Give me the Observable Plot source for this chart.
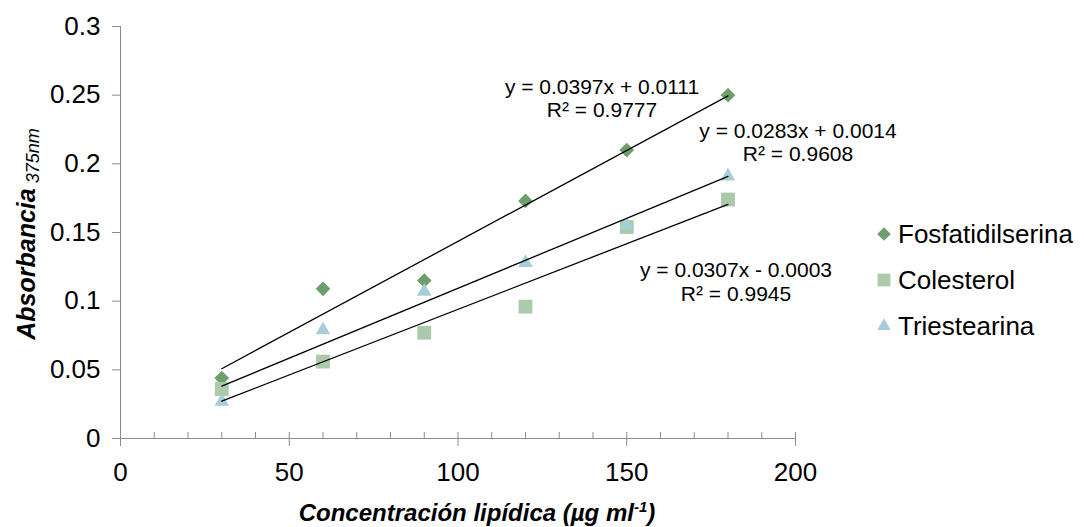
<!DOCTYPE html>
<html><head><meta charset="utf-8">
<script src="https://cdn.jsdelivr.net/npm/d3@7"></script>
<script src="https://cdn.jsdelivr.net/npm/@observablehq/plot@0.6"></script>
<style>
body{margin:0;background:#fff;font-family:"Liberation Sans",Arial,Helvetica,sans-serif}
#wrap{position:relative;width:1084px;height:527px;overflow:hidden}
#legend{position:absolute;left:872px;top:211px}
#legend .row{display:flex;align-items:center;height:46px;font-size:26px;color:#000}
#legend svg{width:24px;height:24px;margin-right:2px}
</style></head><body><div id="wrap"></div>
<script>
// ---- data ----
const concentrations = [30, 60, 90, 120, 150, 180];
const fosfatidilserina = [0.044, 0.109, 0.115, 0.173, 0.210, 0.250];
const colesterol = [0.036, 0.056, 0.077, 0.096, 0.154, 0.174];
const triestearina = [0.027, 0.079, 0.107, 0.128, 0.155, 0.191];
const seriesNames = ["Fosfatidilserina", "Colesterol", "Triestearina"];
const equations = ["y = 0.0397x + 0.0111", "y = 0.0307x - 0.0003", "y = 0.0283x + 0.0014"];
const r2Labels = ["R² = 0.9777", "R² = 0.9945", "R² = 0.9608"];
const xTicks = [0, 50, 100, 150, 200];
const xMinorTicks = [10, 20, 30, 40, 50, 60, 70, 80, 90, 100, 110, 120, 130, 140, 150, 160, 170, 180, 190, 200];
const yTicks = [0, 0.05, 0.1, 0.15, 0.2, 0.25, 0.3];
const yTickLabels = ["0", "0.05", "0.1", "0.15", "0.2", "0.25", "0.3"];
const xTitle = "Concentración lipídica (µg ml";
const xTitleSup = "-1";
const yTitle = "Absorbancia";
const yTitleSub = "375nm";

// ---- styles ----
const colors = ["#6c9f6c", "#abcaab", "#a7cdd8"];
const symbols = ["diamond2", "square2", "triangle2"];
const radii = [6.6, 8.8, 7.0];
const axisGray = "#8c8c8c";
const font = "Liberation Sans, Arial, Helvetica, sans-serif";

const values = [fosfatidilserina, colesterol, triestearina];
const rows = values.map((vals, s) => concentrations.map((c, i) => ({x: c, y: vals[i], series: seriesNames[s]})));

// label anchors: end point of each series, with offsets
const labelDefs = [
  {s: 0, dx: -126, dy: 3},
  {s: 1, dx: 8, dy: 82},
  {s: 2, dx: 70, dy: -34}
];

const marks = [
  Plot.tickX(xMinorTicks, {x: d => d, stroke: axisGray, insetTop: 406}),
  Plot.ruleY([0], {stroke: axisGray}),
  Plot.ruleX([0], {stroke: axisGray}),
  Plot.axisX({ticks: xTicks, tickSize: 8, tickPadding: 16, stroke: axisGray, fill: "#000", fontSize: 26, label: null, tickFormat: d => String(d)}),
  Plot.axisY({ticks: yTicks, tickSize: 8, tickPadding: 12, stroke: axisGray, fill: "#000", fontSize: 26, label: null, tickFormat: (d, i) => yTickLabels[i]}),
];
rows.forEach((data, s) => {
  marks.push(Plot.dot(data, {x: "x", y: "y", symbol: () => symbols[s], fill: colors[s], r: radii[s], stroke: "none"}));
});
rows.forEach((data) => {
  marks.push(Plot.linearRegressionY(data, {x: "x", y: "y", stroke: "#000", strokeWidth: 1.3, ci: 0}));
});
labelDefs.forEach(({s, dx, dy}) => {
  const last = rows[s][rows[s].length - 1];
  marks.push(Plot.text([last], {x: "x", y: "y", text: () => equations[s] + "\n" + r2Labels[s], dx, dy, textAnchor: "middle", lineAnchor: "middle", lineHeight: 1.12, fontSize: 21, fill: "#000"}));
});

const chart = Plot.plot({
  width: 1084, height: 527,
  marginLeft: 120, marginRight: 289, marginTop: 26, marginBottom: 89,
  style: {fontFamily: font, background: "#fff", overflow: "visible"},
  x: {domain: [0, 200]},
  y: {domain: [0, 0.3]},
  symbol: {type: "identity"},
  marks
});
document.getElementById("wrap").appendChild(chart);

// axis titles with mixed styling
const svg = d3.select(chart);
const yt = svg.append("text")
  .attr("transform", "translate(35,234) rotate(-90)")
  .attr("text-anchor", "middle")
  .attr("font-family", font).attr("fill", "#000");
yt.append("tspan").text(yTitle).attr("font-weight", "bold").attr("font-style", "italic").attr("font-size", 25);
yt.append("tspan").text(" " + yTitleSub).attr("font-style", "italic").attr("font-size", 18).attr("dy", 4);

const xt = svg.append("text")
  .attr("x", 477).attr("y", 521)
  .attr("text-anchor", "middle")
  .attr("font-family", font).attr("fill", "#000")
  .attr("font-weight", "bold").attr("font-style", "italic");
xt.append("tspan").text(xTitle).attr("font-size", 24);
xt.append("tspan").text(xTitleSup).attr("font-size", 15).attr("dy", -9);
xt.append("tspan").text(")").attr("font-size", 24).attr("dy", 9);

// legend
const legend = d3.select("#wrap").append("div").attr("id", "legend");
seriesNames.forEach((name, s) => {
  const row = legend.append("div").attr("class", "row");
  const sv = row.append("svg").attr("viewBox", "-12 -12 24 24");
  const sym = {diamond2: d3.symbolDiamond2, square2: d3.symbolSquare2, triangle2: d3.symbolTriangle2}[symbols[s]];
  sv.append("path").attr("d", d3.symbol(sym, Math.PI * radii[s] * radii[s] * 0.85)()).attr("fill", colors[s]);
  row.append("span").text(name);
});
</script>
</body></html>
